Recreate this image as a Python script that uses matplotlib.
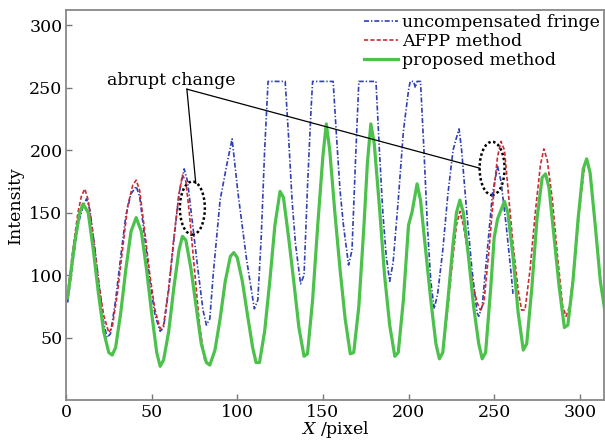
import matplotlib
matplotlib.use('Agg')
import matplotlib.pyplot as plt
from matplotlib.patches import Ellipse

plt.rcParams['font.family'] = 'DejaVu Serif'
plt.rcParams['mathtext.fontset'] = 'dejavuserif'

# proposed method (green)
x_prop = [1, 5, 8, 10, 13, 16, 19, 22, 25, 27, 29, 32, 35, 38, 41, 44, 47, 50, 53, 55,
          57, 60, 63, 66, 68, 70, 73, 76, 79, 82, 84, 87, 90, 93, 96, 98, 100, 103, 106,
          109, 111, 113, 116, 119, 122, 125, 127, 130, 133, 136, 139, 141, 144, 147, 150,
          152, 154, 157, 160, 163, 166, 168, 171, 174, 176, 178, 180, 183, 186, 189, 192,
          194, 197, 200, 202, 205, 207, 210, 213, 216, 218, 220, 223, 226, 228, 230, 232,
          235, 238, 241, 243, 245, 248, 250, 252, 256, 258, 261, 264, 267, 269, 272, 275,
          278, 280, 282, 285, 288, 291, 293, 296, 299, 302, 304, 306, 309, 312, 315]
y_prop = [82, 125, 150, 157, 150, 120, 85, 55, 38, 36, 42, 70, 105, 135, 146, 135, 105, 70, 38, 27,
          32, 55, 90, 120, 131, 128, 105, 75, 45, 30, 28, 40, 65, 95, 115, 118, 114, 95, 68,
          42, 30, 30, 55, 95, 140, 167, 162, 130, 95, 58, 35, 37, 80, 140, 195,
          221, 200, 150, 105, 65, 37, 38, 75, 140, 190, 221, 205, 155, 100, 60, 35,
          38, 80, 140, 150, 173, 160, 120, 80, 45, 33, 38, 80, 125, 150, 160, 150,
          115, 75, 45, 33, 38, 90, 130, 145, 159, 150, 115, 70, 40, 45, 90, 145,
          178, 181, 170, 130, 90, 58, 60, 95, 145, 185, 193, 182, 140, 95, 68]

# AFPP method (red): own values at both ends, same as proposed in between
x_afpp_head = [1, 4, 7, 9, 11, 13, 16, 19, 22, 25, 27, 30, 33, 36, 39, 41, 43, 46, 49, 52,
               55, 57, 60, 63, 66, 68, 70, 72, 75, 78, 81]
y_afpp_head = [85, 120, 150, 163, 169, 160, 130, 95, 68, 54, 58, 85, 120, 155, 172, 176, 168, 135, 100, 72,
               57, 60, 90, 130, 165, 180, 175, 150, 105, 60, 32]
x_afpp_tail = [223, 226, 228, 230, 232, 235, 238, 240, 242, 244, 247, 250, 252, 254, 256, 258,
               261, 264, 266, 268, 271, 274, 277, 279, 281, 284, 287, 290, 292, 294, 297, 300,
               303, 304, 306, 309, 312, 315]
y_afpp_tail = [75, 115, 140, 151, 140, 115, 90, 78, 72, 78, 120, 170, 195, 207, 200, 170,
               125, 88, 72, 72, 105, 150, 188, 201, 192, 160, 115, 75, 67, 75, 110, 155,
               190, 193, 182, 140, 95, 68]
mid = [i for i, v in enumerate(x_prop) if 84 <= v <= 220]
x_afpp = x_afpp_head + [x_prop[i] for i in mid] + x_afpp_tail
y_afpp = y_afpp_head + [y_prop[i] for i in mid] + y_afpp_tail

# uncompensated fringe (blue)
x_unc = [1, 4, 7, 10, 12, 14, 17, 20, 22, 24, 26, 29, 32, 35, 38, 41, 43, 46, 49, 52,
         55, 57, 60, 63, 66, 69, 71, 74, 77, 80, 82, 84, 86, 90, 94, 97, 100.5, 105.5, 110,
         112, 114, 116, 118, 128, 130, 132, 134, 137, 139, 141, 143, 144, 156, 158, 160,
         162, 165, 167, 169, 171, 181, 183, 185, 187, 189, 191, 194, 197, 200, 201, 203,
         204, 205, 207, 209, 211, 213, 215, 217, 220, 223, 226, 228, 229.5, 231, 234, 237,
         240, 241, 243, 246, 249, 252, 254, 257, 260, 261]
y_unc = [78, 110, 140, 155, 161, 152, 120, 85, 62, 50, 53, 80, 115, 148, 165, 171, 163, 130, 95, 68,
         55, 58, 88, 128, 165, 185, 175, 140, 105, 72, 60, 65, 101, 160, 189, 209, 165, 112, 73,
         80, 130, 200, 255, 255, 210, 160, 125, 93, 100, 170, 230, 255, 255, 210, 168,
         140, 108, 120, 190, 255, 255, 200, 150, 115, 95, 110, 160, 215, 248, 255, 255,
         250, 255, 255, 200, 140, 95, 73, 85, 120, 165, 200, 210, 217, 200, 150, 105,
         70, 67, 75, 120, 165, 187, 175, 140, 100, 85]

fig = plt.figure(figsize=(6.05, 4.43), dpi=100)
ax = fig.add_axes([0.109, 0.097, 0.889, 0.880])

ax.plot(x_unc, y_unc, color='#2f3fb5', lw=1.2, linestyle=(0, (3, 1.2, 0.8, 1.2)),
        label='uncompensated fringe')
ax.plot(x_afpp, y_afpp, color='#cc2b36', lw=1.2, linestyle=(0, (2.5, 1.3)),
        label='AFPP method')
ax.plot(x_prop, y_prop, color='#4cc24c', lw=2.3, solid_joinstyle='round',
        label='proposed method')

# abrupt change markers
for cx, cy in [(73.8, 153.6), (248.8, 185.4)]:
    ax.add_patch(Ellipse((cx, cy), 14.6, 42.6, fill=False, ec='black', lw=1.8,
                         linestyle=(0, (1, 1))))
ax.plot([70.6, 75.8], [248.8, 173.4], color='black', lw=0.9)
ax.plot([70.6, 241.5], [248.8, 185.6], color='black', lw=0.9)
ax.text(61.3, 256, 'abrupt change', ha='center', va='center', fontsize=12.5)

ax.set_xlim(0, 314)
ax.set_ylim(0, 312)
ax.set_xticks([0, 50, 100, 150, 200, 250, 300])
ax.set_yticks([50, 100, 150, 200, 250, 300])
ax.tick_params(direction='in', length=4, width=1, color='#777777', labelsize=12.5, pad=2.5)
for s in ax.spines.values():
    s.set_color('#888888')
    s.set_linewidth(1.3)

ax.set_xlabel('$X$ /pixel', fontsize=12.5, labelpad=-1)
ax.set_ylabel('Intensity', fontsize=12.5, labelpad=4)

ax.legend(loc='upper right', frameon=False, fontsize=12.5, handlelength=1.95,
          handletextpad=0.25, labelspacing=0.12, borderaxespad=0.1, borderpad=0.1)

fig.savefig('out.png', dpi=100)
